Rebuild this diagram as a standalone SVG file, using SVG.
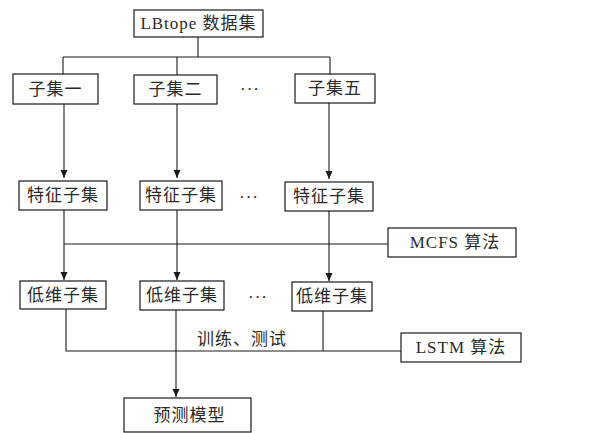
<svg xmlns="http://www.w3.org/2000/svg" width="589" height="433" viewBox="0 0 589 433">
<style>
.b{fill:#fff;stroke:#1a1a1a;stroke-width:1.2}
.t{font-family:"Liberation Serif","Noto Sans CJK SC",serif;font-size:17px;fill:#2a2a2a;text-anchor:middle;dominant-baseline:central;letter-spacing:1px}
.l{fill:none;stroke:#1a1a1a;stroke-width:1.1}
.a{marker-end:url(#ar)}
</style>
<defs>
<marker id="ar" viewBox="0 0 8 12" refX="8" refY="6" markerWidth="8" markerHeight="12" markerUnits="userSpaceOnUse" orient="auto"><path d="M0,2.5 L8,6 L0,9.5 Z" fill="#1a1a1a"/></marker>
</defs>
<rect width="589" height="433" fill="#fff"/>
<g id="connectors">
<path class="l" d="M198,37 V57 M63,57 H330 M63,57 V74 M177,57 V75 M330,57 V74"/>
<path class="l a" d="M64,104 V178"/>
<path class="l a" d="M177,104 V178"/>
<path class="l a" d="M329,103 V179"/>
<path class="l a" d="M64,210 V280"/>
<path class="l a" d="M177,210 V280"/>
<path class="l a" d="M329,211 V281"/>
<path class="l" d="M64,244 H388"/>
<path class="l" d="M66,309 V351 H401 M323,311 V351"/>
<path class="l a" d="M176,310 V397"/>
<text class="t" x="242" y="339">训练、测试</text>
</g>
<g id="n0"><rect class="b" x="134" y="10" width="129" height="27"/><text class="t" x="198.5" y="23.5">LBtope 数据集</text></g>
<g id="n1"><rect class="b" x="13" y="74" width="85" height="30"/><text class="t" x="55.5" y="89">子集一</text></g>
<g id="n2"><rect class="b" x="134" y="75" width="83" height="29"/><text class="t" x="175.5" y="89.5">子集二</text></g>
<g id="d1"><text class="t" x="250" y="89">···</text></g>
<g id="n3"><rect class="b" x="295" y="74" width="80" height="29"/><text class="t" x="335" y="88.5">子集五</text></g>
<g id="f1"><rect class="b" x="19" y="181" width="88" height="29"/><text class="t" x="63" y="195.5">特征子集</text></g>
<g id="f2"><rect class="b" x="140" y="181" width="82" height="29"/><text class="t" x="181" y="195.5">特征子集</text></g>
<g id="d2"><text class="t" x="249" y="197">···</text></g>
<g id="f3"><rect class="b" x="285" y="182" width="88" height="29"/><text class="t" x="329" y="196.5">特征子集</text></g>
<g id="mcfs"><rect class="b" x="388" y="228" width="128" height="29"/><text class="t" x="455" y="242.5">MCFS 算法</text></g>
<g id="g1"><rect class="b" x="20" y="281" width="86" height="28"/><text class="t" x="63" y="295">低维子集</text></g>
<g id="g2"><rect class="b" x="140" y="281" width="84" height="29"/><text class="t" x="182" y="295.5">低维子集</text></g>
<g id="d3"><text class="t" x="258" y="297">···</text></g>
<g id="g3"><rect class="b" x="292" y="282" width="80" height="29"/><text class="t" x="332" y="296.5">低维子集</text></g>
<g id="lstm"><rect class="b" x="401" y="333" width="120" height="29"/><text class="t" x="461" y="347.5">LSTM 算法</text></g>
<g id="pm"><rect class="b" x="124" y="398" width="127" height="34"/><text class="t" x="189.5" y="415">预测模型</text></g>
</svg>
